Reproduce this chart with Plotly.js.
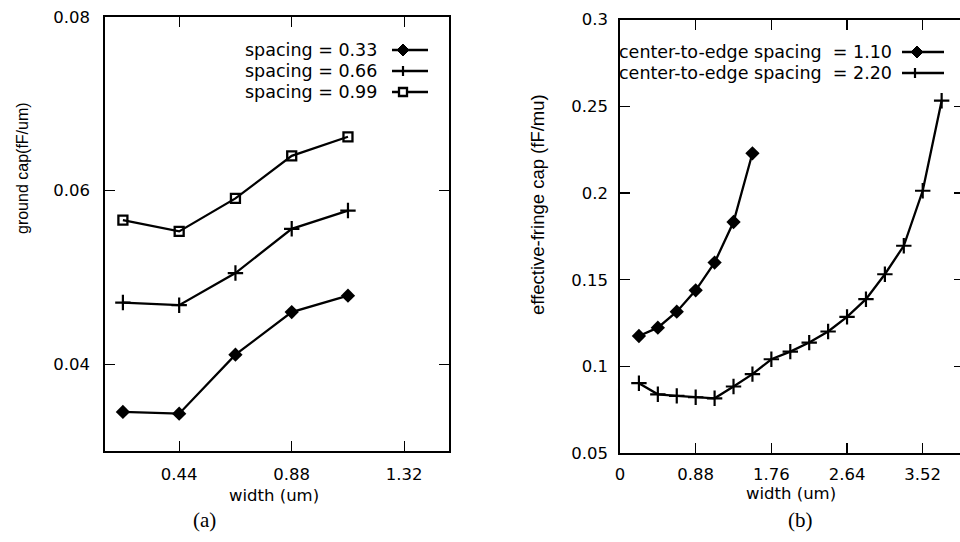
<!DOCTYPE html>
<html>
<head>
<meta charset="utf-8">
<script src="https://cdn.plot.ly/plotly-3.0.1.min.js"></script>
<style>
html, body { margin:0; padding:0; overflow:hidden; background:#fff; }
#chart { width:966px; height:542px; }
</style>
</head>
<body>
<div id="chart"></div>
<script>
// ---------- data (a) ----------
const widthA   = [0.22, 0.44, 0.66, 0.88, 1.10];
const capS033  = [0.0345, 0.0343, 0.0411, 0.0460, 0.0479];
const capS066  = [0.0471, 0.0468, 0.0505, 0.0556, 0.0577];
const capS099  = [0.0566, 0.0553, 0.0591, 0.0640, 0.0662];
const namesA   = ["spacing = 0.33", "spacing = 0.66", "spacing = 0.99"];
const xTicksA  = [0.44, 0.88, 1.32];
const xTextA   = ["0.44", "0.88", "1.32"];
const yTicksA  = [0.04, 0.06, 0.08];
const yTextA   = ["0.04", "0.06", "0.08"];

// ---------- data (b) ----------
const widthB1   = [0.22, 0.44, 0.66, 0.88, 1.10, 1.32, 1.54];
const fringe110 = [0.1176, 0.1224, 0.1316, 0.1439, 0.1599, 0.1833, 0.2229];
const widthB2   = [0.22, 0.44, 0.66, 0.88, 1.10, 1.32, 1.54, 1.76, 1.98, 2.20,
                   2.42, 2.64, 2.86, 3.08, 3.30, 3.52, 3.74];
const fringe220 = [0.0904, 0.0840, 0.0831, 0.0823, 0.0817, 0.0885, 0.0956, 0.1042,
                   0.1086, 0.1138, 0.1202, 0.1286, 0.1388, 0.1532, 0.1696, 0.2013, 0.2532];
const namesB    = ["center-to-edge spacing\u00a0\u00a0= 1.10", "center-to-edge spacing\u00a0\u00a0= 2.20"];
const xTicksB   = [0, 0.88, 1.76, 2.64, 3.52];
const xTextB    = ["0", "0.88", "1.76", "2.64", "3.52"];
const yTicksB   = [0.05, 0.1, 0.15, 0.2, 0.25, 0.3];
const yTextB    = ["0.05", "0.1", "0.15", "0.2", "0.25", "0.3"];

// ---------- layout helpers ----------
const W = 966, H = 542;
const px = v => v / W;
const py = v => 1 - v / H;
const tickFont = {family: "DejaVu Sans", size: 16.5, color: "#000"};
const legFont  = {family: "DejaVu Sans", size: 17.5, color: "#000"};

function axisBase(extra) {
  return Object.assign({
    ticks: "inside", ticklen: 10, tickwidth: 1.2, tickcolor: "#000",
    showline: true, linewidth: 1.6, linecolor: "#000", mirror: "ticks",
    showgrid: false, zeroline: false, tickfont: tickFont, tickmode: "array"
  }, extra);
}

const lineStyle = {color: "#000", width: 2.3};
const traces = [
  {x: widthA, y: capS033, xaxis: "x", yaxis: "y", mode: "lines+markers", name: namesA[0],
   line: lineStyle, marker: {symbol: "diamond", size: 11, color: "#000"}},
  {x: widthA, y: capS066, xaxis: "x", yaxis: "y", mode: "lines+markers", name: namesA[1],
   line: lineStyle, marker: {symbol: "cross-thin-open", size: 11, color: "#000", line: {color: "#000", width: 2.2}}},
  {x: widthA, y: capS099, xaxis: "x", yaxis: "y", mode: "lines+markers", name: namesA[2],
   line: lineStyle, marker: {symbol: "square-open", size: 9, color: "#000", line: {color: "#000", width: 2.3}}},
  {x: widthB1, y: fringe110, xaxis: "x2", yaxis: "y2", mode: "lines+markers", name: namesB[0],
   line: lineStyle, marker: {symbol: "diamond", size: 11, color: "#000"}},
  {x: widthB2, y: fringe220, xaxis: "x2", yaxis: "y2", mode: "lines+markers", name: namesB[1],
   line: lineStyle, marker: {symbol: "cross-thin-open", size: 11, color: "#000", line: {color: "#000", width: 2.2}}}
];

// legend keys (decoration, placed in paper space)
const shapes = [];
const annotations = [];
function legendKey(xText, xL0, xL1, xM, yRow, label, sym) {
  annotations.push({xref: "paper", yref: "paper", x: px(xText), y: py(yRow), xanchor: "right", yanchor: "middle",
                    text: label, showarrow: false, font: legFont});
  shapes.push({type: "line", xref: "paper", yref: "paper", x0: px(xL0), x1: px(xL1), y0: py(yRow), y1: py(yRow),
               line: {color: "#000", width: 2.3}});
  const base = {type: "path", xref: "paper", yref: "paper", xsizemode: "pixel", ysizemode: "pixel",
                xanchor: px(xM), yanchor: py(yRow)};
  if (sym === "diamond") shapes.push(Object.assign({}, base, {path: "M0,6 L6,0 L0,-6 L-6,0 Z", fillcolor: "#000", line: {color: "#000", width: 1}}));
  if (sym === "plus") shapes.push(Object.assign({}, base, {path: "M-5,0 L5,0 M0,-5 L0,5", line: {color: "#000", width: 2.2}}));
  if (sym === "square") shapes.push(Object.assign({}, base, {path: "M-4,-4 L4,-4 L4,4 L-4,4 Z", fillcolor: "#fff", line: {color: "#000", width: 2.3}}));
}
legendKey(379, 392, 428, 403, 50, namesA[0], "diamond");
legendKey(379, 392, 428, 403, 71, namesA[1], "plus");
legendKey(379, 392, 428, 403, 92, namesA[2], "square");
legendKey(894, 902, 944, 917, 52, namesB[0], "diamond");
legendKey(894, 902, 944, 915, 73, namesB[1], "plus");

function txt(x, y, text, font, angle) {
  annotations.push({xref: "paper", yref: "paper", x: px(x), y: py(y), xanchor: "center", yanchor: "middle",
                    text: text, showarrow: false, font: font, textangle: angle || 0});
}
txt(274, 495, "width (um)", {family: "DejaVu Sans", size: 16.5, color: "#000"});
txt(791, 493, "width (um)", {family: "DejaVu Sans", size: 16.5, color: "#000"});
txt(22, 168, "ground cap(fF/um)", {family: "Liberation Sans", size: 16, color: "#000"}, -90);
txt(537, 205, "effective-fringe cap (fF/mu)", {family: "Liberation Sans", size: 18.5, color: "#000"}, -90);
txt(204, 520, "(a)", {family: "Liberation Serif", size: 21, color: "#000"});
txt(800, 520, "(b)", {family: "Liberation Serif", size: 21, color: "#000"});

const layout = {
  width: W, height: H, margin: {l: 0, r: 0, t: 0, b: 0},
  paper_bgcolor: "#fff", plot_bgcolor: "#fff", showlegend: false,
  xaxis: axisBase({domain: [px(105), px(449)], range: [0.15, 1.495], tickvals: xTicksA, ticktext: xTextA,
                   anchor: "y", ticklabelstandoff: 8}),
  yaxis: axisBase({domain: [py(451), py(17)], range: [0.03, 0.08], tickvals: yTicksA, ticktext: yTextA,
                   anchor: "x", ticklabelstandoff: 10}),
  xaxis2: axisBase({domain: [px(620), px(964)], range: [0, 4.0], tickvals: xTicksB, ticktext: xTextB,
                    anchor: "y2", ticklabelstandoff: 5}),
  yaxis2: axisBase({domain: [py(453.3), py(19.5)], range: [0.05, 0.3], tickvals: yTicksB, ticktext: yTextB,
                    anchor: "x2", ticklabelstandoff: 7}),
  shapes: shapes,
  annotations: annotations
};

Plotly.newPlot("chart", traces, layout, {displayModeBar: false, staticPlot: true});
</script>
</body>
</html>
